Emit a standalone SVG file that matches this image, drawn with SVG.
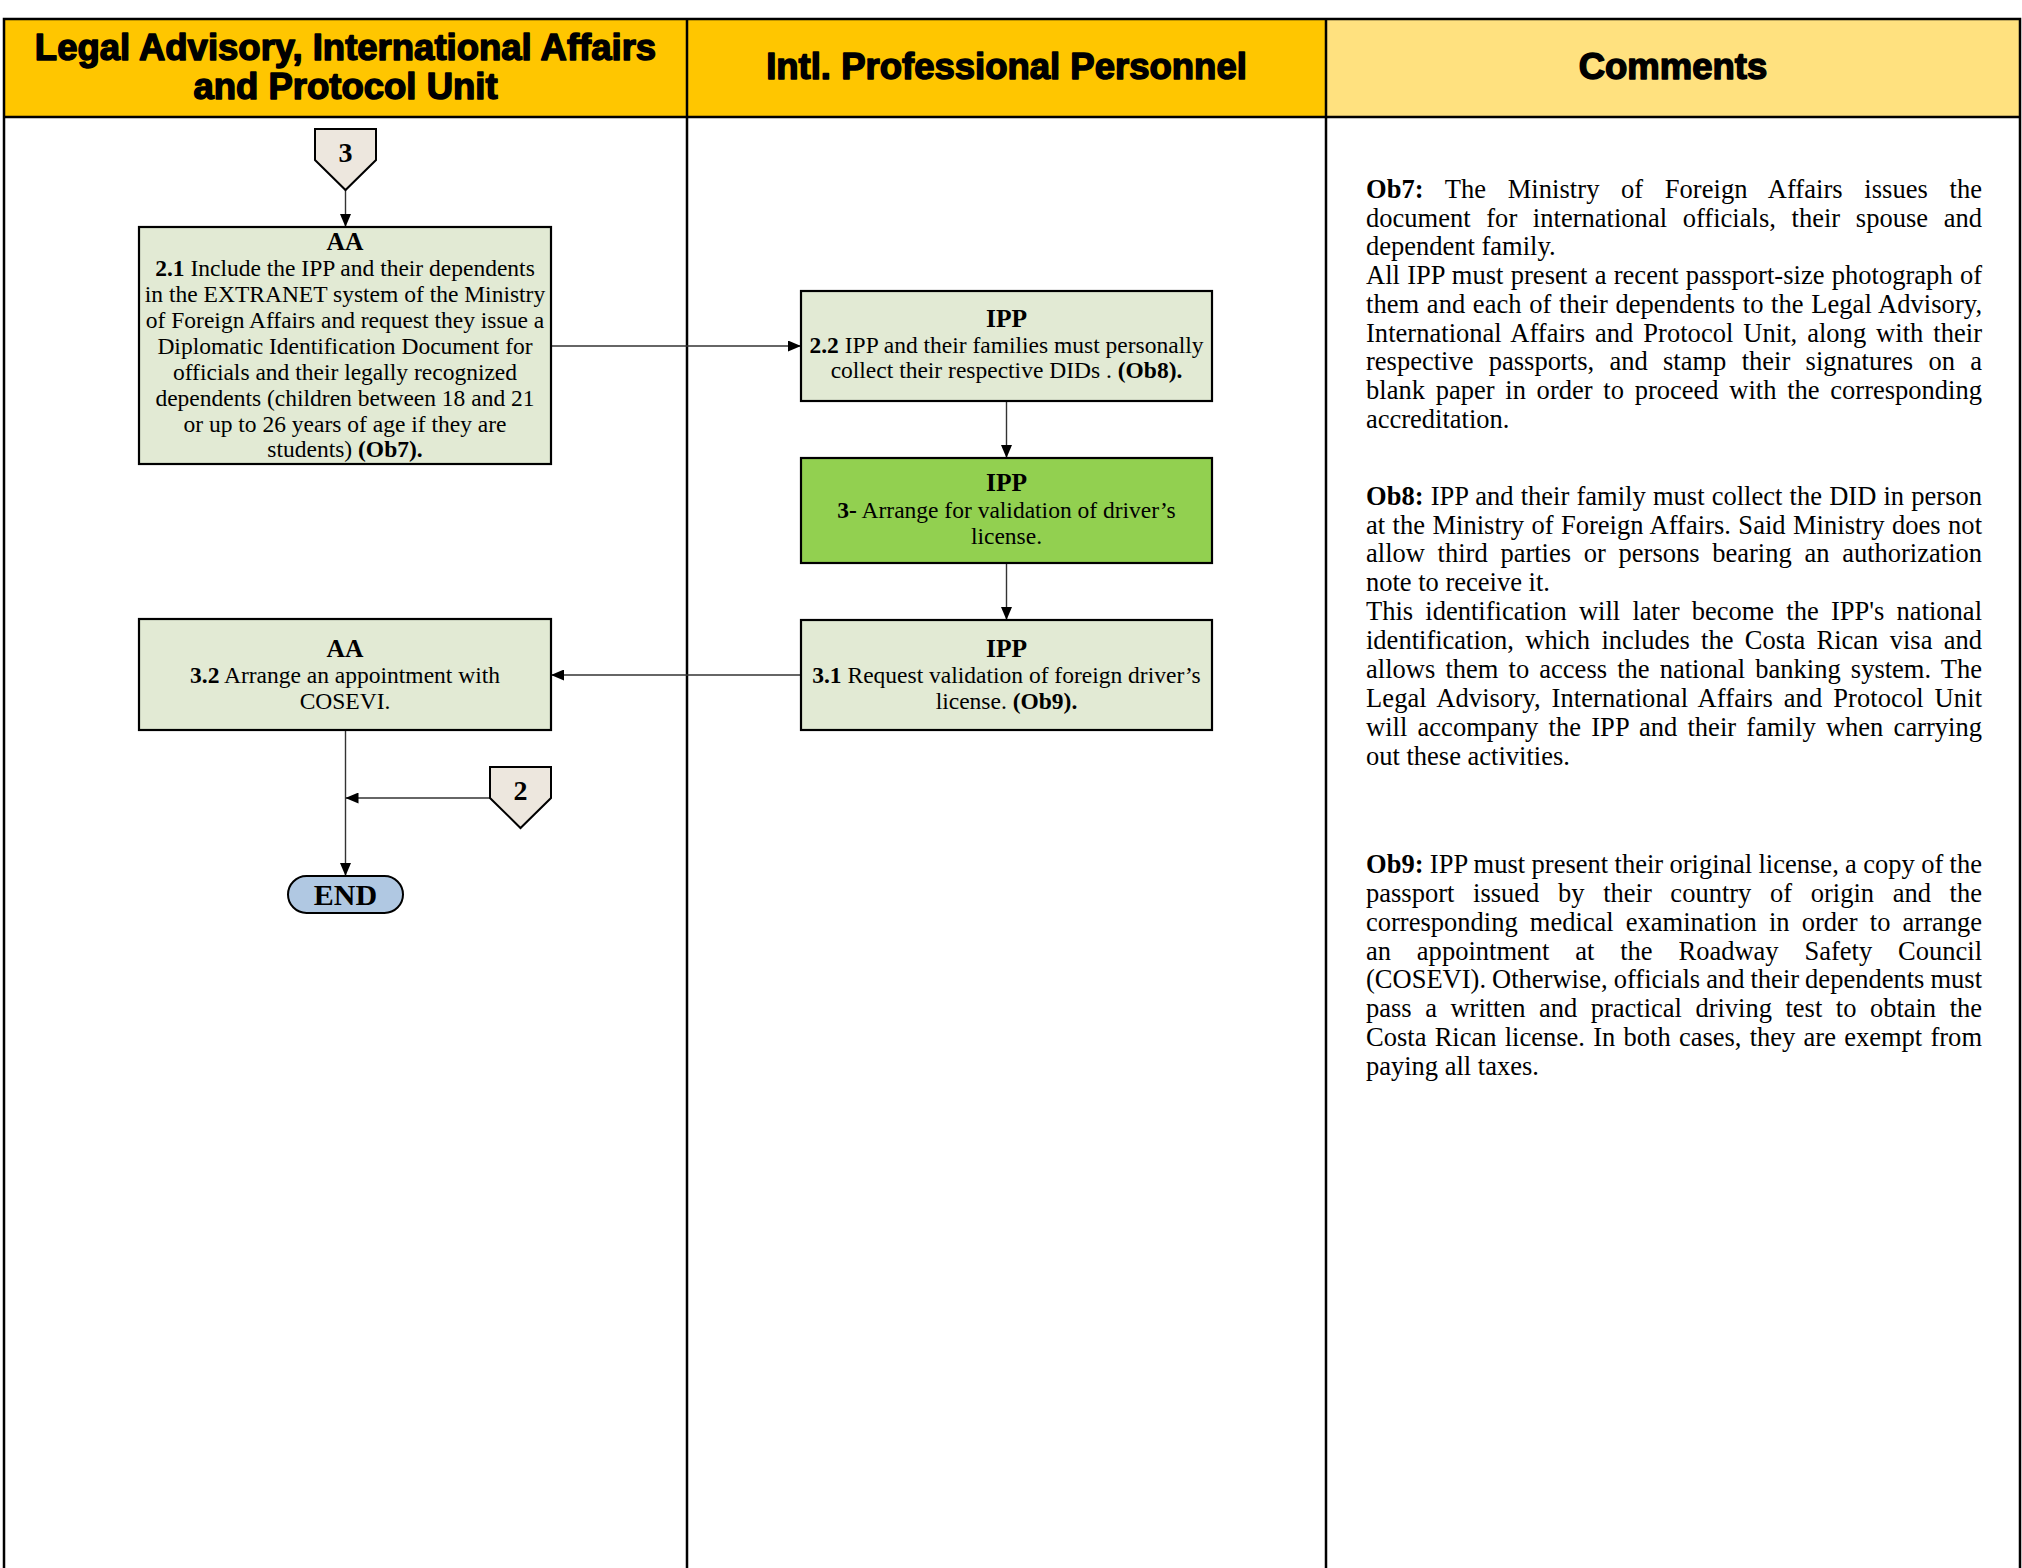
<svg xmlns="http://www.w3.org/2000/svg" width="2022" height="1568" viewBox="0 0 2022 1568">
<defs>
<style>
.hdr{font-family:"Liberation Sans",Arial,sans-serif;font-weight:bold;font-size:36.5px;fill:#000;stroke:#000;stroke-width:1.5;stroke-linejoin:round;text-anchor:middle}
.box{fill:#E2EAD4;stroke:#000;stroke-width:2.2}
.boxg{fill:#92D050;stroke:#000;stroke-width:2.2}
.t{font-family:"Liberation Serif","Times New Roman",serif;font-size:23.5px;fill:#000;text-anchor:middle}
.b{font-weight:bold}
.ttl{font-size:25.5px}
.num{font-size:28px}
.endt{font-size:30px}
.cm{font-family:"Liberation Serif","Times New Roman",serif;font-size:26.5px;fill:#000}
.pent{fill:#EDE7DE;stroke:#000;stroke-width:2}
.conn{stroke:#333;stroke-width:1.4;fill:none}
.grid{stroke:#000;stroke-width:2.5;fill:none}
</style>
<marker id="ah" viewBox="0 0 13 11" refX="13" refY="5.5" markerWidth="13" markerHeight="11" markerUnits="userSpaceOnUse" orient="auto">
<path d="M0,0 L13,5.5 L0,11 z" fill="#000"/>
</marker>
</defs>
<rect x="0" y="0" width="2022" height="1568" fill="#fff"/>
<g id="lanes">
<rect x="4" y="19" width="683" height="98" fill="#FFC600"/>
<rect x="687" y="19" width="639" height="98" fill="#FFC600"/>
<rect x="1326" y="19" width="694" height="98" fill="#FFE17F"/>
<path class="grid" d="M4,1568 V19 H2020 V1568 M4,117 H2020 M687,19 V1568 M1326,19 V1568"/>
<text class="hdr" x="345.5" y="60">Legal Advisory, International Affairs</text>
<text class="hdr" x="345.5" y="99">and Protocol Unit</text>
<text class="hdr" x="1006.5" y="79">Intl. Professional Personnel</text>
<text class="hdr" x="1673" y="79">Comments</text>
</g>
<g id="connectors">
<line class="conn" x1="345.5" y1="190" x2="345.5" y2="227" marker-end="url(#ah)"/>
<line class="conn" x1="551" y1="346" x2="801" y2="346" marker-end="url(#ah)"/>
<line class="conn" x1="1006.5" y1="401" x2="1006.5" y2="458" marker-end="url(#ah)"/>
<line class="conn" x1="1006.5" y1="563" x2="1006.5" y2="620" marker-end="url(#ah)"/>
<line class="conn" x1="801" y1="675" x2="551" y2="675" marker-end="url(#ah)"/>
<line class="conn" x1="345.5" y1="730" x2="345.5" y2="876" marker-end="url(#ah)"/>
<line class="conn" x1="490" y1="798" x2="345.5" y2="798" marker-end="url(#ah)"/>
</g>
<g id="conn3">
<path class="pent" d="M315,129 H376 V160 L345.5,190 L315,160 Z"/>
<text class="t b num" x="345.5" y="162">3</text>
</g>
<g id="node21">
<rect class="box" x="139" y="227" width="412" height="237"/>
<text class="t b ttl" x="345" y="250">AA</text>
<text class="t" x="345" y="276"><tspan class="b">2.1</tspan> Include the IPP and their dependents</text>
<text class="t" x="345" y="302">in the EXTRANET system of the Ministry</text>
<text class="t" x="345" y="328">of Foreign Affairs and request they issue a</text>
<text class="t" x="345" y="354">Diplomatic Identification Document for</text>
<text class="t" x="345" y="380">officials and their legally recognized</text>
<text class="t" x="345" y="406">dependents (children between 18 and 21</text>
<text class="t" x="345" y="431.5">or up to 26 years of age if they are</text>
<text class="t" x="345" y="457">students) <tspan class="b">(Ob7).</tspan></text>
</g>
<g id="node22">
<rect class="box" x="801" y="291" width="411" height="110"/>
<text class="t b ttl" x="1006.5" y="327">IPP</text>
<text class="t" x="1006.5" y="353"><tspan class="b">2.2</tspan> IPP and their families must personally</text>
<text class="t" x="1006.5" y="378">collect their respective DIDs . <tspan class="b">(Ob8).</tspan></text>
</g>
<g id="node3">
<rect class="boxg" x="801" y="458" width="411" height="105"/>
<text class="t b ttl" x="1006.5" y="491">IPP</text>
<text class="t" x="1006.5" y="518"><tspan class="b">3-</tspan> Arrange for validation of driver’s</text>
<text class="t" x="1006.5" y="544">license.</text>
</g>
<g id="node31">
<rect class="box" x="801" y="620" width="411" height="110"/>
<text class="t b ttl" x="1006.5" y="657">IPP</text>
<text class="t" x="1006.5" y="683"><tspan class="b">3.1</tspan> Request validation of foreign driver’s</text>
<text class="t" x="1006.5" y="709">license. <tspan class="b">(Ob9).</tspan></text>
</g>
<g id="node32">
<rect class="box" x="139" y="619" width="412" height="111"/>
<text class="t b ttl" x="345" y="657">AA</text>
<text class="t" x="345" y="683"><tspan class="b">3.2</tspan> Arrange an appointment with</text>
<text class="t" x="345" y="709">COSEVI.</text>
</g>
<g id="conn2">
<path class="pent" d="M490,767 H551 V798 L520.5,828 L490,798 Z"/>
<text class="t b num" x="520.5" y="800">2</text>
</g>
<g id="end">
<rect x="288" y="876" width="115" height="37" rx="18.5" fill="#B0C8E2" stroke="#000" stroke-width="2"/>
<text class="t b endt" x="345.5" y="905">END</text>
</g>
<g id="comments">
<text class="cm" x="1366" y="198" word-spacing="14.9" textLength="616" lengthAdjust="spacing"><tspan class="b">Ob7:</tspan> The Ministry of Foreign Affairs issues the</text>
<text class="cm" x="1366" y="227" word-spacing="9" textLength="616" lengthAdjust="spacing">document for international officials, their spouse and</text>
<text class="cm" x="1366" y="255">dependent family.</text>
<text class="cm" x="1366" y="284" word-spacing="0.6" textLength="616" lengthAdjust="spacing">All IPP must present a recent passport-size photograph of</text>
<text class="cm" x="1366" y="313" word-spacing="0.9" textLength="616" lengthAdjust="spacing">them and each of their dependents to the Legal Advisory,</text>
<text class="cm" x="1366" y="342" word-spacing="3.3" textLength="616" lengthAdjust="spacing">International Affairs and Protocol Unit, along with their</text>
<text class="cm" x="1366" y="370" word-spacing="8.7" textLength="616" lengthAdjust="spacing">respective passports, and stamp their signatures on a</text>
<text class="cm" x="1366" y="399" word-spacing="4.1" textLength="616" lengthAdjust="spacing">blank paper in order to proceed with the corresponding</text>
<text class="cm" x="1366" y="428">accreditation.</text>
<text class="cm" x="1366" y="505" word-spacing="0.5" textLength="616" lengthAdjust="spacing"><tspan class="b">Ob8:</tspan> IPP and their family must collect the DID in person</text>
<text class="cm" x="1366" y="534" word-spacing="0.7" textLength="616" lengthAdjust="spacing">at the Ministry of Foreign Affairs. Said Ministry does not</text>
<text class="cm" x="1366" y="562" word-spacing="6.1" textLength="616" lengthAdjust="spacing">allow third parties or persons bearing an authorization</text>
<text class="cm" x="1366" y="591">note to receive it.</text>
<text class="cm" x="1366" y="620" word-spacing="5.6" textLength="616" lengthAdjust="spacing">This identification will later become the IPP's national</text>
<text class="cm" x="1366" y="649" word-spacing="4.7" textLength="616" lengthAdjust="spacing">identification, which includes the Costa Rican visa and</text>
<text class="cm" x="1366" y="678" word-spacing="3.5" textLength="616" lengthAdjust="spacing">allows them to access the national banking system. The</text>
<text class="cm" x="1366" y="707" word-spacing="4.2" textLength="616" lengthAdjust="spacing">Legal Advisory, International Affairs and Protocol Unit</text>
<text class="cm" x="1366" y="736" word-spacing="3.6" textLength="616" lengthAdjust="spacing">will accompany the IPP and their family when carrying</text>
<text class="cm" x="1366" y="765">out these activities.</text>
<text class="cm" x="1366" y="873" word-spacing="-0.3" textLength="616" lengthAdjust="spacing"><tspan class="b">Ob9:</tspan> IPP must present their original license, a copy of the</text>
<text class="cm" x="1366" y="902" word-spacing="12" textLength="616" lengthAdjust="spacing">passport issued by their country of origin and the</text>
<text class="cm" x="1366" y="931" word-spacing="5.5" textLength="616" lengthAdjust="spacing">corresponding medical examination in order to arrange</text>
<text class="cm" x="1366" y="960" word-spacing="19.2" textLength="616" lengthAdjust="spacing">an appointment at the Roadway Safety Council</text>
<text class="cm" x="1366" y="988" word-spacing="-0.6" textLength="616" lengthAdjust="spacing">(COSEVI). Otherwise, officials and their dependents must</text>
<text class="cm" x="1366" y="1017" word-spacing="6.9" textLength="616" lengthAdjust="spacing">pass a written and practical driving test to obtain the</text>
<text class="cm" x="1366" y="1046" word-spacing="1.6" textLength="616" lengthAdjust="spacing">Costa Rican license. In both cases, they are exempt from</text>
<text class="cm" x="1366" y="1075">paying all taxes.</text>
</g>
</svg>
